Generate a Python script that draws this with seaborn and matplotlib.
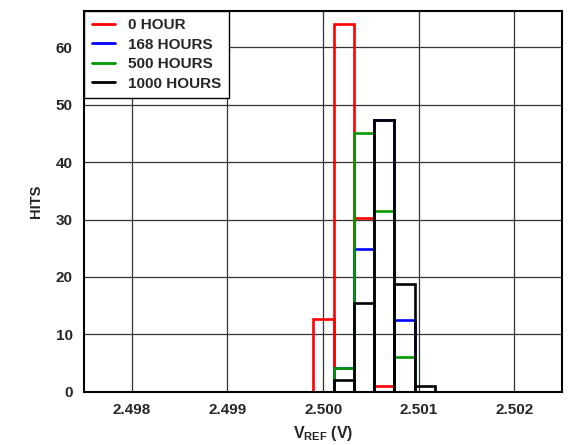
import numpy as np
import pandas as pd
import seaborn as sns
import matplotlib.pyplot as plt
from matplotlib.lines import Line2D
from matplotlib.ticker import FormatStrFormatter

# bin edges (V) and hits per bin for each soak time
bin_edges = [2.49989, 2.50011, 2.50032, 2.50053, 2.50074, 2.50096, 2.50117]
hits_0h = [12.6, 64.0, 30.2, 1.0, 0.0, 0.0]
hits_168h = [0.0, 4.1, 24.8, 47.3, 12.5, 0.0]
hits_500h = [0.0, 4.1, 45.1, 31.5, 6.0, 0.0]
hits_1000h = [0.0, 2.0, 15.4, 47.3, 18.7, 1.0]

series_names = ['0 HOUR', '168 HOURS', '500 HOURS', '1000 HOURS']
series_hits = [hits_0h, hits_168h, hits_500h, hits_1000h]
series_colors = ['#ff0000', '#0000ff', '#009900', '#000000']

centers = [(a + b) / 2 for a, b in zip(bin_edges[:-1], bin_edges[1:])]
rows = []
for name, hits in zip(series_names, series_hits):
    for c, h in zip(centers, hits):
        rows.append({'vref': c, 'hits': h, 'series': name})
df = pd.DataFrame(rows)

sns.set_theme(style="white")
plt.rcParams['font.family'] = ['Liberation Sans', 'DejaVu Sans']
plt.rcParams['font.weight'] = 'bold'
plt.rcParams['mathtext.fontset'] = 'custom'
plt.rcParams['mathtext.rm'] = 'Liberation Sans:bold'
plt.rcParams['mathtext.it'] = 'Liberation Sans:bold'
plt.rcParams['mathtext.bf'] = 'Liberation Sans:bold'

fig = plt.figure(figsize=(5.8, 4.45), dpi=100)
ax = fig.add_axes([0.1448, 0.1198, 0.8247, 0.8562])

for name, col in zip(series_names, series_colors):
    n_before = len(ax.patches)
    sns.histplot(data=df[df['series'] == name], x='vref', weights='hits',
                 bins=bin_edges, fill=False, element='bars', color=col,
                 linewidth=1.9, ax=ax)
    for p in ax.patches[n_before:]:
        p.set_edgecolor(col)
        if p.get_height() == 0:
            p.remove()

ax.set_xlim(2.4975, 2.5025)
ax.set_ylim(0, 66.4)
ax.set_xticks([2.498, 2.499, 2.500, 2.501, 2.502])
ax.set_yticks(range(0, 61, 10))
ax.xaxis.set_major_formatter(FormatStrFormatter('%.3f'))
ax.grid(True, color='#333333', linewidth=0.9)
ax.set_axisbelow(True)
ax.tick_params(length=0, labelsize=11, pad=8)
for lab in ax.get_xticklabels() + ax.get_yticklabels():
    lab.set_fontweight('bold')
for s in ax.spines.values():
    s.set_color('black')
    s.set_linewidth(1.5)

ax.set_xlabel(r'$V_{REF}$ (V)', fontsize=11.5, fontweight='bold', labelpad=5)
ax.set_ylabel('HITS', fontsize=10.5, fontweight='bold', labelpad=9.5)

handles = [Line2D([0], [0], color=c, lw=2) for c in series_colors]
leg = ax.legend(handles, series_names, loc='upper left', borderaxespad=0,
                fontsize=11, handlelength=1.5, handletextpad=0.9,
                labelspacing=0.36, borderpad=0.5, fancybox=False,
                framealpha=1, edgecolor='black')
leg.get_frame().set_linewidth(1.0)
for t in leg.get_texts():
    t.set_fontweight('bold')

fig.savefig('out.png', dpi=100)
